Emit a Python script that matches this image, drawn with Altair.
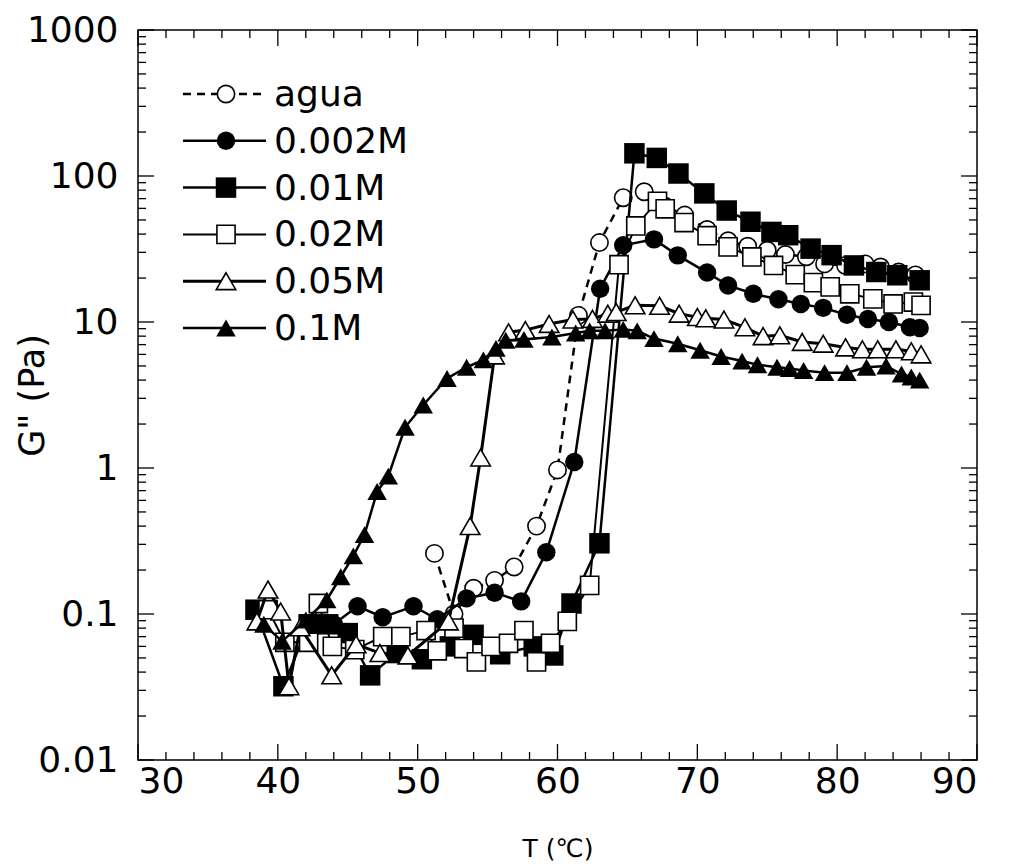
import altair as alt
import pandas as pd

# ---------------- data ----------------
series_names = ["agua", "0.002M", "0.01M", "0.02M", "0.05M", "0.1M"]

agua_T = [51.2, 52.6, 54.0, 55.5, 56.9, 58.5, 60.0, 61.5, 63.0, 64.7, 66.2, 67.7, 69.1, 70.7,
          72.2, 73.6, 75.0, 76.3, 77.8, 79.1, 80.6, 82.0, 83.1, 84.4, 85.6]
agua_G = [0.26, 0.10, 0.15, 0.17, 0.21, 0.40, 0.97, 11.1, 35, 71, 78, 62, 54, 43,
          36, 33, 31, 29, 28, 25, 24.4, 25, 23.8, 22, 21]

m002_T = [44.0, 45.7, 47.5, 49.7, 51.4, 53.5, 55.5, 57.4, 59.2, 61.2, 63.05, 64.7, 66.9, 68.6,
          70.7, 72.2, 74.0, 75.8, 77.4, 79.0, 80.7, 82.2, 83.7, 85.2, 85.9]
m002_G = [0.085, 0.113, 0.095, 0.113, 0.092, 0.128, 0.14, 0.122, 0.265, 1.1, 16.9, 33.5, 36.8, 28.6,
          21.8, 17.8, 15.6, 14.3, 13.3, 12.5, 11.2, 10.5, 10.0, 9.2, 9.1]

m01_T = [38.4, 40.4, 42.2, 43.6, 45.0, 46.6, 48.5, 50.3, 52.3, 54.0, 55.9, 58.3, 59.7, 61.0, 63.0,
         65.5, 67.1, 68.65, 70.5, 72.1, 73.8, 75.3, 76.5, 78.1, 79.6, 81.2, 82.8, 84.3, 85.9]
m01_G = [0.107, 0.032, 0.085, 0.085, 0.074, 0.038, 0.054, 0.049, 0.06, 0.072, 0.053, 0.06, 0.052, 0.118, 0.305,
         143, 133, 104, 76, 58, 48.6, 41.4, 39.3, 31.8, 28.7, 24.4, 22, 20.9, 19.3]

m02_T = [39.3, 40.5, 42.2, 42.9, 43.9, 45.5, 47.5, 48.8, 50.6, 51.4, 52.6, 53.3, 54.2, 55.25, 56.5,
         57.6, 58.5, 59.5, 60.7, 62.3, 64.4, 65.6, 67.15, 67.7, 69.05, 70.7, 72.2, 73.9, 75.45, 77.0,
         78.3, 79.5, 80.9, 82.55, 84.0, 85.45, 86.0]
m02_G = [0.107, 0.064, 0.064, 0.118, 0.06, 0.057, 0.070, 0.070, 0.077, 0.056, 0.08, 0.058, 0.047, 0.06, 0.063,
         0.077, 0.047, 0.063, 0.089, 0.157, 24.7, 45.5, 67, 59.6, 48, 39, 32.7, 27.9, 24.4, 21.1,
         18.6, 17.4, 15.6, 14.4, 13.3, 13.7, 13.0]

m05_T = [38.5, 39.3, 40.2, 40.8, 41.6, 43.85, 45.6, 47.3, 49.3, 52.2, 53.75, 54.5, 55.5, 56.5, 57.7,
         59.4, 61.1, 62.5, 63.6, 64.2, 65.55, 67.3, 68.7, 70.0, 70.6, 71.9, 73.4, 74.7, 75.9, 77.5,
         79.0, 80.6, 81.8, 82.9, 84.2, 85.3, 86.0]
m05_G = [0.089, 0.147, 0.104, 0.032, 0.081, 0.038, 0.062, 0.054, 0.052, 0.089, 0.40, 1.18, 5.9, 8.5, 8.8,
         9.7, 10.4, 10.5, 11.4, 11.7, 13.0, 12.9, 11.4, 10.8, 10.6, 10.4, 9.2, 8.0, 8.1, 7.3,
         7.1, 6.7, 6.5, 6.5, 6.5, 6.3, 6.0]

m1_T = [39.0, 40.3, 42.0, 43.5, 44.5, 45.4, 46.2, 47.1, 47.9, 49.1, 50.4, 52.1, 53.5, 54.7, 55.6,
        56.3, 57.6, 59.6, 61.3, 62.3, 63.4, 64.7, 65.7, 66.9, 68.6, 70.2, 71.7, 73.2, 74.3, 75.7,
        76.6, 77.6, 79.1, 80.7, 82.1, 83.5, 84.6, 85.3, 85.9]
m1_G = [0.085, 0.065, 0.091, 0.125, 0.18, 0.25, 0.35, 0.69, 0.88, 1.9, 2.7, 4.1, 4.9, 5.5, 6.6,
        7.5, 7.6, 7.9, 8.4, 8.7, 8.7, 8.9, 8.7, 7.7, 7.1, 6.4, 5.8, 5.4, 5.1, 4.9,
        4.8, 4.65, 4.5, 4.5, 4.9, 5.0, 4.4, 4.2, 4.0]

series_T = [agua_T, m002_T, m01_T, m02_T, m05_T, m1_T]
series_G = [agua_G, m002_G, m01_G, m02_G, m05_G, m1_G]

x_major = [30, 40, 50, 60, 70, 80, 90]
x_minor = [v for v in range(30, 91, 2) if v % 10 != 0]
y_major = [0.01, 0.1, 1, 10, 100, 1000]
y_minor = [round(k * 10 ** e, 6) for e in range(-2, 3) for k in range(2, 10)]

# ---------------- styles ----------------
W, H = 839, 730
FONT = "DejaVu Sans"
LBL = 36
styles = {
    "agua":   dict(shape="circle", filled=False, size=300, dash=[8, 6], lw=2.5),
    "0.002M": dict(shape="circle", filled=True, size=340, dash=None, lw=2.5),
    "0.01M":  dict(shape="square", filled=True, size=420, dash=None, lw=2.5),
    "0.02M":  dict(shape="square", filled=False, size=330, dash=None, lw=2.0),
    "0.05M":  dict(shape="triangle-up", filled=False, size=380, dash=None, lw=3.0),
    "0.1M":   dict(shape="triangle-up", filled=True, size=380, dash=None, lw=2.5),
}

xscale = alt.Scale(domain=[30, 90], nice=False, zero=False)
yscale = alt.Scale(type="log", domain=[0.01, 1000], nice=False)

xaxis = alt.Axis(values=x_major, ticks=False, domain=False, grid=False, labelFont=FONT,
                 labelFontSize=LBL, labelColor="black", labelPadding=4,
                 title="T (\u2103)", titleFont=FONT, titleFontSize=25, titleFontWeight="normal",
                 titleColor="black", titleY=88, titleBaseline="middle")
yaxis = alt.Axis(values=y_major, ticks=False, domain=False, grid=False, labelFont=FONT,
                 labelFontSize=LBL, labelColor="black", labelPadding=20,
                 labelExpr="datum.value >= 1 ? format(datum.value, 'd') : format(datum.value, '.2~f')",
                 title='G" (Pa)', titleFont=FONT, titleFontSize=35, titleFontWeight="normal",
                 titleColor="black", titleAngle=270, titleX=-106, titleY=H / 2,
                 titleAlign="center", titleBaseline="middle")


def X(field):
    return alt.X(field, scale=xscale, axis=xaxis, title="T (\u2103)")


def Y(field):
    return alt.Y(field, scale=yscale, axis=yaxis, title='G" (Pa)')


layers = []
for name, Ts, Gs in zip(series_names, series_T, series_G):
    st = styles[name]
    df = pd.DataFrame({"T": Ts, "G": Gs})
    base = alt.Chart(df)
    lkw = dict(color="black", strokeWidth=st["lw"])
    if st["dash"]:
        lkw["strokeDash"] = st["dash"]
    layers.append(base.mark_line(**lkw).encode(x=X("T:Q"), y=Y("G:Q")))
    if st["filled"]:
        pm = base.mark_point(shape=st["shape"], filled=True, color="black", size=st["size"], opacity=1)
    else:
        pm = base.mark_point(shape=st["shape"], filled=False, fill="white", stroke="black",
                             strokeWidth=1.6, size=st["size"], opacity=1)
    layers.append(pm.encode(x=X("T:Q"), y=Y("G:Q")))

# ---------------- inward ticks on all four sides ----------------
def xticks(vals, length):
    d = alt.Chart(pd.DataFrame({"T": vals}))
    bot = d.mark_rule(color="black", strokeWidth=1.3).encode(x=X("T:Q"), y=alt.value(H), y2=alt.value(H - length))
    top = d.mark_rule(color="black", strokeWidth=1.3).encode(x=X("T:Q"), y=alt.value(0), y2=alt.value(length))
    return [bot, top]


def yticks(vals, length):
    d = alt.Chart(pd.DataFrame({"G": vals}))
    left = d.mark_rule(color="black", strokeWidth=1.3).encode(y=Y("G:Q"), x=alt.value(0), x2=alt.value(length))
    right = d.mark_rule(color="black", strokeWidth=1.3).encode(y=Y("G:Q"), x=alt.value(W), x2=alt.value(W - length))
    return [left, right]


tick_layers = xticks(x_major, 16) + xticks(x_minor, 8) + yticks(y_major, 16) + yticks(y_minor, 8)

# ---------------- in-plot legend ----------------
one = pd.DataFrame({"a": [0]})
leg_y0, leg_dy = 64, 46.8
leg_layers = []
for i, name in enumerate(series_names):
    st = styles[name]
    yy = leg_y0 + i * leg_dy
    c = alt.Chart(one)
    rkw = dict(color="black", strokeWidth=st["lw"])
    if st["dash"]:
        rkw["strokeDash"] = st["dash"]
    leg_layers.append(c.mark_rule(**rkw).encode(x=alt.value(45), x2=alt.value(128), y=alt.value(yy)))
    if st["filled"]:
        pm = c.mark_point(shape=st["shape"], filled=True, color="black", size=st["size"], opacity=1)
    else:
        pm = c.mark_point(shape=st["shape"], filled=False, fill="white", stroke="black",
                          strokeWidth=1.6, size=st["size"], opacity=1)
    leg_layers.append(pm.encode(x=alt.value(88), y=alt.value(yy)))
    leg_layers.append(c.mark_text(align="left", baseline="middle", font=FONT, fontSize=LBL,
                                  color="black").encode(x=alt.value(136), y=alt.value(yy + 1),
                                                        text=alt.value(name)))

chart = alt.layer(*layers, *tick_layers, *leg_layers).properties(
    width=W, height=H,
    autosize=alt.AutoSizeParams(type="none"),
    padding={"left": 138, "top": 30, "right": 1016 - 138 - W, "bottom": 867 - 30 - H},
    background="white",
).configure_view(stroke="black", strokeWidth=1.5)

chart.save("out.html", embed_options={"renderer": "svg", "actions": False})
